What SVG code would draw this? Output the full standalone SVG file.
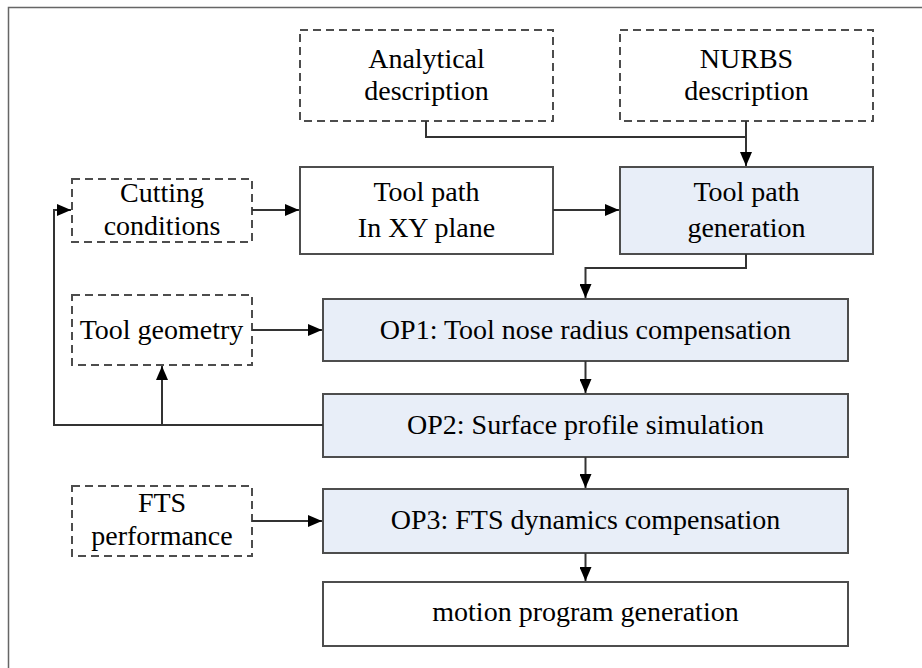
<svg xmlns="http://www.w3.org/2000/svg" width="922" height="668" viewBox="0 0 922 668">
<style>
.box{fill:#fff;stroke:#4d4d4d;stroke-width:2}
.dash{fill:#fff;stroke:#4d4d4d;stroke-width:2;stroke-dasharray:8 5}
.blue{fill:#e8eef8;stroke:#4d4d4d;stroke-width:2}
.t{font-family:"Liberation Serif","Times New Roman",serif;font-size:28px;fill:#000;text-anchor:middle}
.c{fill:none;stroke:#333;stroke-width:2}
</style>
<defs>
<marker id="ah" markerWidth="14" markerHeight="12" refX="14" refY="6" orient="auto" markerUnits="userSpaceOnUse">
<path d="M0,0 L14,6 L0,12 Z" fill="#000"/>
</marker>
</defs>
<rect width="922" height="668" fill="#fff"/>
<path d="M8.5,668 V7.5 H922" fill="none" stroke="#666" stroke-width="1.5"/>

<g id="analytical"><rect class="dash" x="300" y="30" width="253" height="91"/><text class="t" x="426.5" y="68">Analytical</text><text class="t" x="426.5" y="100">description</text></g>
<g id="nurbs"><rect class="dash" x="620" y="30" width="253" height="91"/><text class="t" x="746.5" y="68">NURBS</text><text class="t" x="746.5" y="100">description</text></g>
<g id="cutting"><rect class="dash" x="72" y="179" width="180" height="63"/><text class="t" x="162" y="202">Cutting</text><text class="t" x="162" y="235">conditions</text></g>
<g id="toolpathxy"><rect class="box" x="300" y="167" width="253" height="87"/><text class="t" x="426.5" y="201">Tool path</text><text class="t" x="426.5" y="237">In XY plane</text></g>
<g id="toolpathgen"><rect class="blue" x="620" y="167" width="253" height="87"/><text class="t" x="746.5" y="201">Tool path</text><text class="t" x="746.5" y="237">generation</text></g>
<g id="toolgeom"><rect class="dash" x="72" y="295" width="180" height="70"/><text class="t" x="161.5" y="339">Tool geometry</text></g>
<g id="op1"><rect class="blue" x="323" y="299" width="525" height="62"/><text class="t" x="585.5" y="339">OP1: Tool nose radius compensation</text></g>
<g id="op2"><rect class="blue" x="323" y="394" width="525" height="63"/><text class="t" x="585.5" y="434">OP2: Surface profile simulation</text></g>
<g id="fts"><rect class="dash" x="72" y="486" width="180" height="70"/><text class="t" x="162" y="512">FTS</text><text class="t" x="162" y="545">performance</text></g>
<g id="op3"><rect class="blue" x="323" y="489" width="525" height="64"/><text class="t" x="585.5" y="529">OP3: FTS dynamics compensation</text></g>
<g id="motion"><rect class="box" x="323" y="582" width="525" height="64"/><text class="t" x="585.5" y="621">motion program generation</text></g>

<g id="connectors">
<path class="c" d="M426,121 V137 H746"/>
<path class="c" d="M746,121 V166" marker-end="url(#ah)"/>
<path class="c" d="M252,210 H299" marker-end="url(#ah)"/>
<path class="c" d="M553,210 H619" marker-end="url(#ah)"/>
<path class="c" d="M746,254 V268 H585.5 V298" marker-end="url(#ah)"/>
<path class="c" d="M252,330 H322" marker-end="url(#ah)"/>
<path class="c" d="M585.5,361 V393" marker-end="url(#ah)"/>
<path class="c" d="M323,425 H54 V210 H71" marker-end="url(#ah)"/>
<path class="c" d="M162,425 V366" marker-end="url(#ah)"/>
<path class="c" d="M585.5,457 V488" marker-end="url(#ah)"/>
<path class="c" d="M252,521 H322" marker-end="url(#ah)"/>
<path class="c" d="M585.5,553 V581" marker-end="url(#ah)"/>
</g>
</svg>
